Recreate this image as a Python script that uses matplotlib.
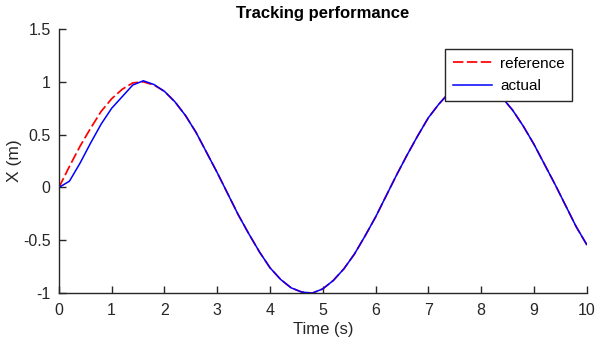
import numpy as np
import matplotlib.pyplot as plt

plt.rcParams['font.family'] = ['Liberation Sans', 'DejaVu Sans']

t = np.round(np.arange(0, 10.01, 0.2), 2)
x_ref = [0.00, 0.20, 0.39, 0.56, 0.72, 0.84, 0.93, 0.99, 1.00, 0.97,
         0.91, 0.81, 0.68, 0.52, 0.33, 0.14, -0.06, -0.26, -0.44, -0.61,
         -0.76, -0.87, -0.95, -0.99, -1.00, -0.96, -0.88, -0.77, -0.63, -0.46,
         -0.28, -0.08, 0.12, 0.31, 0.49, 0.66, 0.79, 0.90, 0.97, 1.00,
         0.99, 0.94, 0.85, 0.73, 0.58, 0.41, 0.22, 0.03, -0.17, -0.37,
         -0.54]
x_act = [0.00, 0.06, 0.23, 0.42, 0.60, 0.75, 0.86, 0.97, 1.01, 0.975,
         0.91, 0.81, 0.68, 0.52, 0.33, 0.14, -0.06, -0.26, -0.44, -0.61,
         -0.76, -0.87, -0.95, -0.99, -1.00, -0.96, -0.88, -0.77, -0.63, -0.46,
         -0.28, -0.08, 0.12, 0.31, 0.49, 0.66, 0.79, 0.90, 0.97, 1.00,
         0.99, 0.94, 0.85, 0.73, 0.58, 0.41, 0.22, 0.03, -0.17, -0.37,
         -0.54]

axc = '#262626'
fig = plt.figure(figsize=(5.95, 3.54), dpi=100)
ax = fig.add_axes([0.099, 0.172, 0.887, 0.746])

ax.plot(t, x_ref, color='red', lw=1.25, ls=(0, (6, 2)), label='reference')
ax.plot(t, x_act, color='blue', lw=1.1, label='actual')

ax.set_xlim(0, 10)
ax.set_ylim(-1, 1.5)
ax.set_xticks(np.arange(0, 11, 1))
ax.set_yticks([-1, -0.5, 0, 0.5, 1, 1.5])
ax.set_yticklabels(['-1', '-0.5', '0', '0.5', '1', '1.5'])
ax.tick_params(direction='in', length=5, width=1, colors=axc, labelsize=11.5, labelcolor=axc)
ax.tick_params(axis='x', pad=7)
ax.tick_params(axis='y', pad=6)
for s in ['top', 'right']:
    ax.spines[s].set_visible(False)
for s in ['left', 'bottom']:
    ax.spines[s].set_color(axc)
    ax.spines[s].set_linewidth(1)

ax.set_xlabel('Time (s)', fontsize=12, color=axc, labelpad=3)
ax.set_ylabel('X (m)', fontsize=12.5, color=axc)
ax.yaxis.set_label_coords(-0.07, 0.5)
ax.set_title('Tracking performance', fontsize=12, fontweight='bold', pad=8)

leg = ax.legend(loc='upper right', bbox_to_anchor=(0.973, 0.924), borderaxespad=0,
                fontsize=11, handlelength=2.6, fancybox=False, framealpha=1,
                borderpad=0.5, labelspacing=0.55, handletextpad=0.5)
leg.get_frame().set_edgecolor(axc)
leg.get_frame().set_linewidth(1)

fig.savefig('out.png', dpi=100)
